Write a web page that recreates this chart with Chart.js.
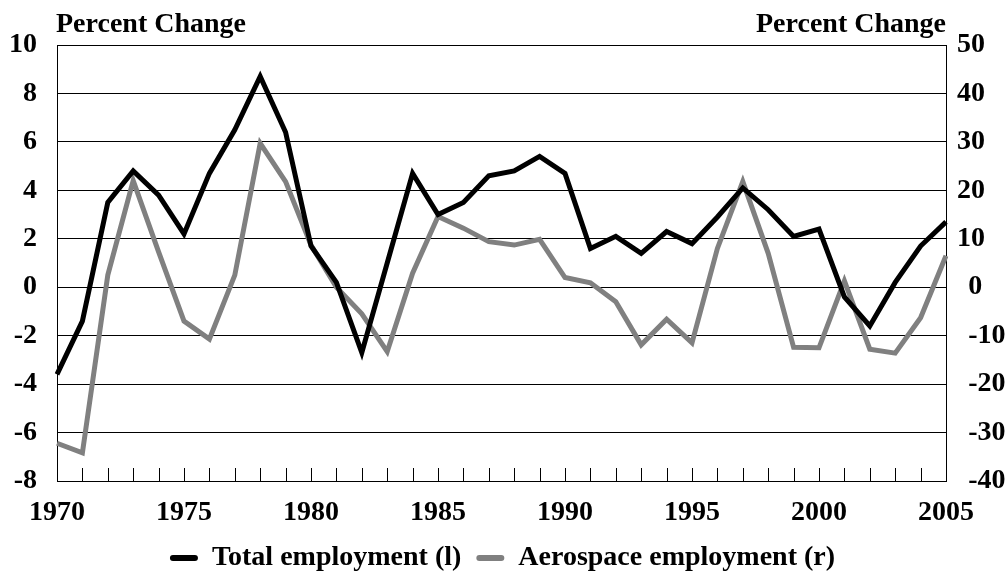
<!DOCTYPE html>
<html><head><meta charset="utf-8">
<script src="https://cdn.jsdelivr.net/npm/chart.js@4"></script>
<style>html,body{margin:0;padding:0;background:#fff}</style>
</head><body>
<canvas id="c" width="1005" height="571"></canvas>
<script>
const years = [1970,1971,1972,1973,1974,1975,1976,1977,1978,1979,1980,1981,1982,1983,1984,1985,1986,1987,1988,1989,1990,1991,1992,1993,1994,1995,1996,1997,1998,1999,2000,2001,2002,2003,2004,2005];
const totalEmployment = [-3.6,-1.4,3.5,4.8,3.8,2.2,4.7,6.5,8.7,6.4,1.7,0.2,-2.7,1.0,4.7,3.0,3.5,4.6,4.8,5.4,4.7,1.6,2.1,1.4,2.3,1.8,2.9,4.1,3.2,2.1,2.4,-0.4,-1.6,0.2,1.7,2.7];
const aerospaceEmployment = [-32.2,-34.2,2.5,22.0,7.3,-7.0,-10.7,2.5,29.7,21.8,8.7,0.0,-5.5,-13.3,2.9,14.6,12.2,9.4,8.7,9.9,2.0,0.9,-3.0,-11.9,-6.6,-11.5,8.0,21.8,7.0,-12.4,-12.5,1.3,-12.8,-13.6,-6.3,6.5];
const leftRange = [-8, 10, 2];
const rightRange = [-40, 50, 10];
const seriesNames = ['Total employment (l)', 'Aerospace employment (r)'];
const axisTitle = 'Percent Change';

const FONT = "'Liberation Serif', 'Times New Roman', serif";
const tickFont = {family: FONT, size: 28, weight: 'bold'};

const extras = {
  id: 'extras',
  beforeDatasetsDraw(chart) {
    const {ctx, chartArea: a, scales: {x}} = chart;
    ctx.save();
    ctx.strokeStyle = '#000'; ctx.lineWidth = 1;
    for (let i = 0; i < years.length; i++) {
      const px = Math.round(x.getPixelForValue(i)) + 0.5;
      ctx.beginPath(); ctx.moveTo(px, a.bottom); ctx.lineTo(px, a.bottom - 13); ctx.stroke();
    }
    ctx.restore();
  },
  afterDraw(chart) {
    const {ctx, chartArea: a} = chart;
    ctx.save();
    ctx.fillStyle = '#000';
    ctx.font = 'bold 28px ' + FONT;
    ctx.textBaseline = 'alphabetic';
    ctx.textAlign = 'left'; ctx.fillText(axisTitle, a.left - 1, 32);
    ctx.textAlign = 'right'; ctx.fillText(axisTitle, a.right, 32);
    ctx.restore();
  }
};

new Chart(document.getElementById('c'), {
  type: 'line',
  data: {
    labels: years.map(String),
    datasets: [
      {label: seriesNames[0], data: totalEmployment, yAxisID: 'yL', borderColor: '#000', backgroundColor: '#000',
       borderWidth: 5, pointRadius: 0, tension: 0, borderJoinStyle: 'miter', order: 1},
      {label: seriesNames[1], data: aerospaceEmployment, yAxisID: 'yR', borderColor: '#808080', backgroundColor: '#808080',
       borderWidth: 5, pointRadius: 0, tension: 0, borderJoinStyle: 'miter', order: 2}
    ]
  },
  options: {
    responsive: false,
    animation: false,
    layout: {padding: {top: 45, left: 0, right: 0, bottom: -11}},
    plugins: {
      tooltip: {enabled: false},
      legend: {
        position: 'bottom',
        labels: {
          font: {family: FONT, size: 28, weight: 'bold'},
          color: '#000', boxWidth: 28, boxHeight: 6, padding: 15, useBorderRadius: true,
          generateLabels(chart) {
            return chart.data.datasets.map((d, i) => ({
              text: d.label, fillStyle: d.borderColor, strokeStyle: d.borderColor, lineWidth: 0,
              borderRadius: 3, fontColor: '#000', datasetIndex: i, hidden: false
            }));
          }
        }
      }
    },
    scales: {
      x: {
        type: 'category', offset: false,
        grid: {drawOnChartArea: false, drawTicks: false},
        border: {display: true, color: '#000', width: 1},
        ticks: {autoSkip: false, maxRotation: 0, minRotation: 0, padding: 15, color: '#000', font: tickFont,
          callback: (v, i) => (years[i] % 5 === 0 ? String(years[i]) : '')},
        afterFit(s) { s.height = 48; }
      },
      yL: {
        position: 'left', min: leftRange[0], max: leftRange[1],
        grid: {color: '#000', lineWidth: 1, drawTicks: false},
        border: {display: true, color: '#000', width: 1},
        ticks: {stepSize: leftRange[2], padding: 20, color: '#000', font: tickFont},
        afterFit(s) { s.width = 57; }
      },
      yR: {
        position: 'right', min: rightRange[0], max: rightRange[1],
        grid: {drawOnChartArea: false, drawTicks: false},
        border: {display: true, color: '#000', width: 1},
        ticks: {stepSize: rightRange[2], padding: 11, color: '#000', font: tickFont,
          callback: v => (v <= 0 ? '\u2009\u2009' + v : String(v))},
        afterFit(s) { s.width = 59; }
      }
    }
  },
  plugins: [extras]
});
</script>
</body></html>
